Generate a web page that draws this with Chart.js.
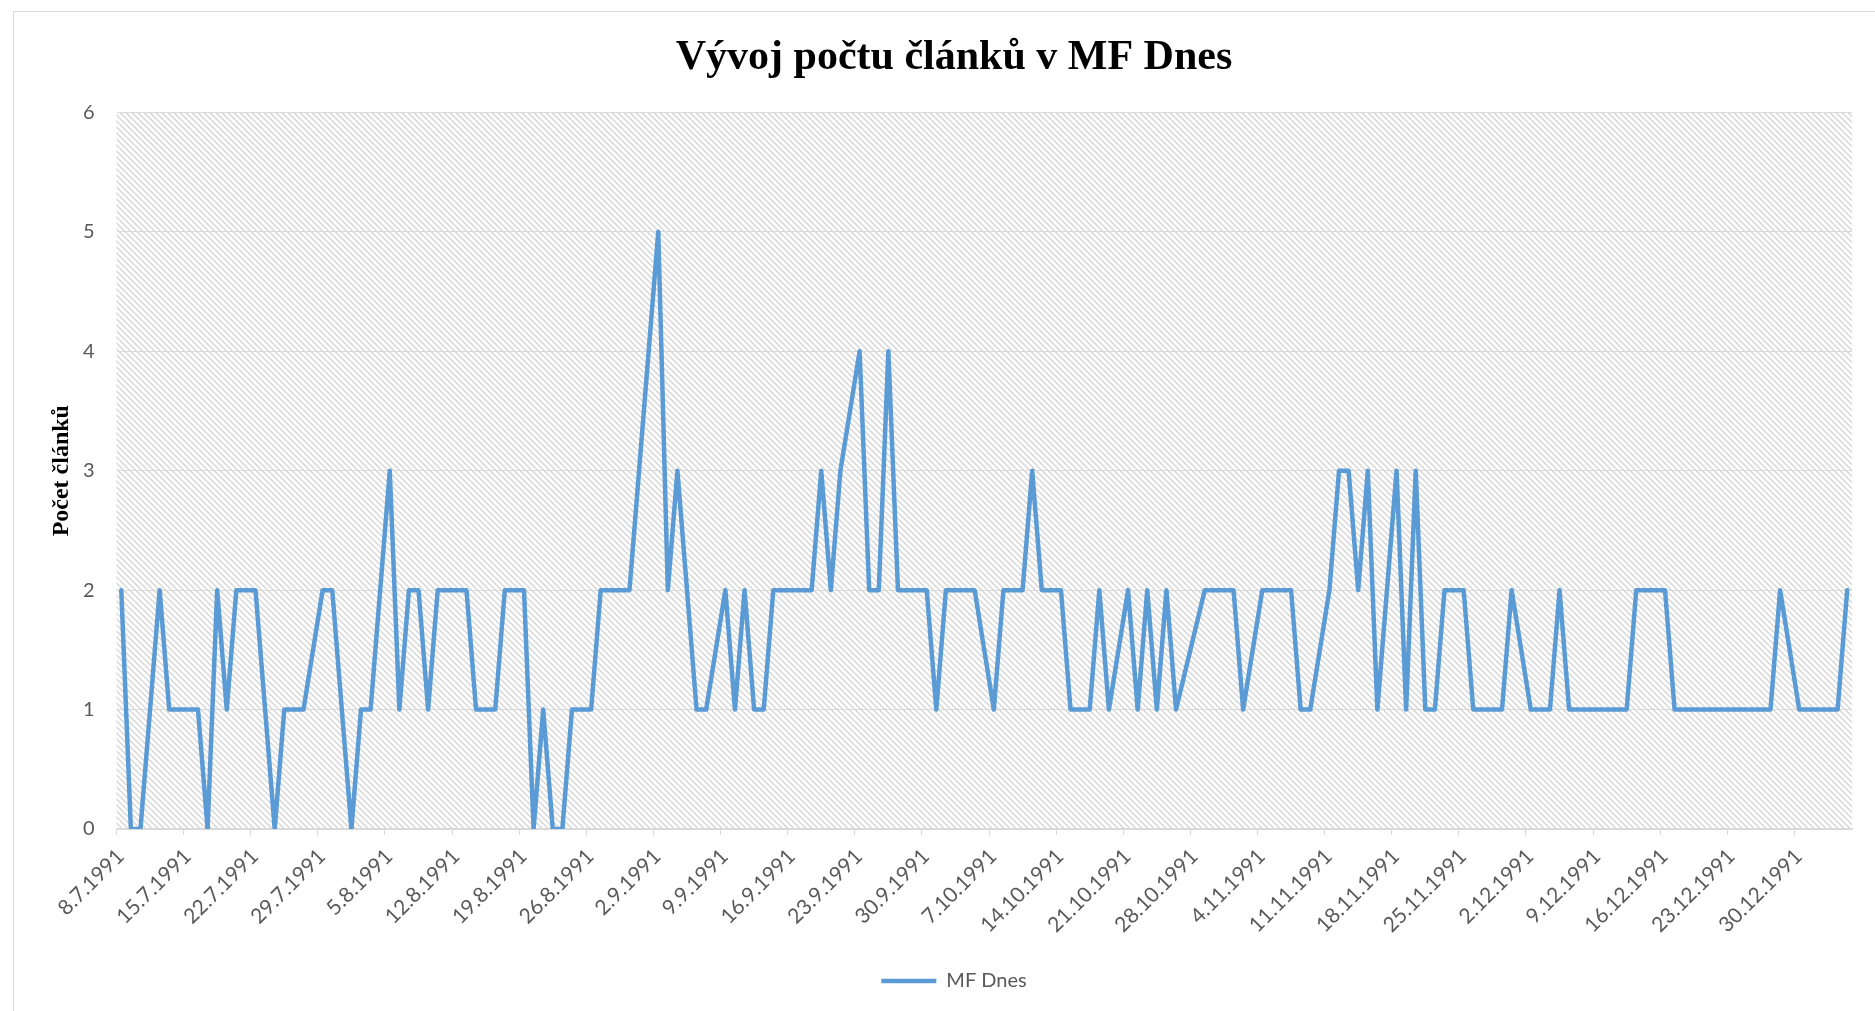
<!DOCTYPE html>
<html lang="cs">
<head>
<meta charset="utf-8">
<title>Vývoj počtu článků v MF Dnes</title>
<script src="https://cdn.jsdelivr.net/npm/chart.js@4.4.1/dist/chart.umd.min.js"></script>
<style>
    html, body { margin: 0; padding: 0; background: #fff; }
    #obal { position: relative; width: 1875px; height: 1011px; overflow: hidden; }
    #ramecek { position: absolute; left: 13px; top: 11px; width: 1900px; height: 1050px; border: 1px solid #d9d9d9; box-sizing: border-box; }
    #graf { position: absolute; left: 0; top: 0; }
</style>
</head>
<body>
<div id="obal">
    <div id="ramecek"></div>
    <canvas id="graf" width="1875" height="1011"></canvas>
</div>
<script>
// Popisky osy X (pondělí každého týdne)
const tydny = [
    '8.7.1991', '15.7.1991', '22.7.1991', '29.7.1991', '5.8.1991', '12.8.1991',
    '19.8.1991', '26.8.1991', '2.9.1991', '9.9.1991', '16.9.1991', '23.9.1991',
    '30.9.1991', '7.10.1991', '14.10.1991', '21.10.1991', '28.10.1991', '4.11.1991',
    '11.11.1991', '18.11.1991', '25.11.1991', '2.12.1991', '9.12.1991', '16.12.1991',
    '23.12.1991', '30.12.1991'
];

// Počet článků po dnech od 8.7.1991 do 4.1.1992 (null = neděle / nevyšlo)
const pocetClanku = [
    2, 0, 0, 1, 2, 1, null,     // 8.7.
    1, 1, 0, 2, 1, 2, null,     // 15.7.
    2, 1, 0, 1, 1, 1, null,     // 22.7.
    2, 2, 1, 0, 1, 1, null,     // 29.7.
    3, 1, 2, 2, 1, 2, null,     // 5.8.
    2, 2, 1, 1, 1, 2, null,     // 12.8.
    2, 0, 1, 0, 0, 1, null,     // 19.8.
    1, 2, 2, 2, 2, 3, null,     // 26.8.
    5, 2, 3, 2, 1, 1, null,     // 2.9.
    2, 1, 2, 1, 1, 2, null,     // 9.9.
    2, 2, 2, 3, 2, 3, null,     // 16.9.
    4, 2, 2, 4, 2, 2, null,     // 23.9.
    2, 1, 2, 2, 2, 2, null,     // 30.9.
    1, 2, 2, 2, 3, 2, null,     // 7.10.
    2, 1, 1, 1, 2, 1, null,     // 14.10.
    2, 1, 2, 1, 2, 1, null,     // 21.10.
    null, 2, 2, 2, 2, 1, null,  // 28.10.
    2, 2, 2, 2, 1, 1, null,     // 4.11.
    2, 3, 3, 2, 3, 1, null,     // 11.11.
    3, 1, 3, 1, 1, 2, null,     // 18.11.
    2, 1, 1, 1, 1, 2, null,     // 25.11.
    1, 1, 1, 2, 1, 1, null,     // 2.12.
    1, 1, 1, 1, 2, 2, null,     // 9.12.
    2, 1, 1, 1, 1, 1, null,     // 16.12.
    1, 1, 1, 1, 1, 2, null,     // 23.12.
    1, 1, 1, 1, 1, 2            // 30.12.
];

const pocetDni = pocetClanku.length;
const pismo = 'Lato, "Open Sans", sans-serif';
const seda = '#595959';

// bod je uprostřed svého dne na ose
const body = pocetClanku.map((v, i) => ({ x: i + 0.5, y: v }));

// šrafované pozadí plochy grafu
const srafovani = {
    id: 'srafovani',
    beforeDraw(chart) {
        const { ctx, chartArea: a } = chart;
        const h = a.bottom - a.top;
        ctx.save();
        ctx.beginPath();
        ctx.rect(a.left, a.top, a.right - a.left, h);
        ctx.clip();
        ctx.strokeStyle = '#d6d6d6';
        ctx.lineWidth = 1.4;
        ctx.beginPath();
        for (let x = a.left - h; x < a.right; x += 6) {
            ctx.moveTo(x, a.top);
            ctx.lineTo(x + h, a.bottom);
        }
        ctx.stroke();
        ctx.restore();
    }
};

new Chart(document.getElementById('graf'), {
    type: 'line',
    data: {
        datasets: [{
            label: 'MF Dnes',
            data: body,
            borderColor: '#5b9bd5',
            backgroundColor: '#5b9bd5',
            borderWidth: 4.5,
            borderJoinStyle: 'round',
            borderCapStyle: 'round',
            pointRadius: 0,
            tension: 0,
            spanGaps: true
        }]
    },
    options: {
        responsive: false,
        animation: false,
        layout: { padding: { left: 56, right: 23, top: 0, bottom: 10 } },
        scales: {
            x: {
                type: 'linear',
                min: 0,
                max: pocetDni,
                afterBuildTicks: (s) => { s.ticks = s.ticks.filter(t => t.value % 7 === 0 && t.value < pocetDni); },
                afterFit: (s) => { s.height = 132; },
                ticks: {
                    stepSize: 7,
                    autoSkip: false,
                    maxRotation: 45,
                    minRotation: 45,
                    color: seda,
                    font: { family: pismo, size: 21 },
                    padding: 9,
                    labelOffset: 4,
                    callback: (v) => tydny[v / 7]
                },
                grid: { drawOnChartArea: false, drawTicks: true, tickLength: 6, color: '#d9d9d9' },
                border: { display: true, color: '#d9d9d9', width: 1.5 }
            },
            y: {
                min: 0,
                max: 6,
                afterFit: (s) => { s.width = 60.5; },
                ticks: {
                    stepSize: 1,
                    color: seda,
                    font: { family: pismo, size: 20 },
                    padding: 22
                },
                grid: { color: '#d9d9d9', lineWidth: 1, drawTicks: false },
                border: { display: false },
                title: {
                    display: true,
                    text: 'Počet článků',
                    color: '#000',
                    font: { family: '"Liberation Serif", "Times New Roman", serif', size: 24, weight: 'bold' },
                    padding: { top: -9, bottom: 0 }
                }
            }
        },
        plugins: {
            title: {
                display: true,
                text: 'Vývoj počtu článků v MF Dnes',
                color: '#000',
                font: { family: '"Liberation Serif", "Times New Roman", serif', size: 42, weight: 'bold' },
                padding: { top: 33, bottom: 29 }
            },
            legend: {
                position: 'bottom',
                labels: {
                    usePointStyle: true,
                    pointStyle: 'line',
                    pointStyleWidth: 55,
                    color: seda,
                    font: { family: pismo, size: 20 },
                    padding: 10
                }
            },
            tooltip: { enabled: false }
        }
    },
    plugins: [srafovani]
});
</script>
</body>
</html>
